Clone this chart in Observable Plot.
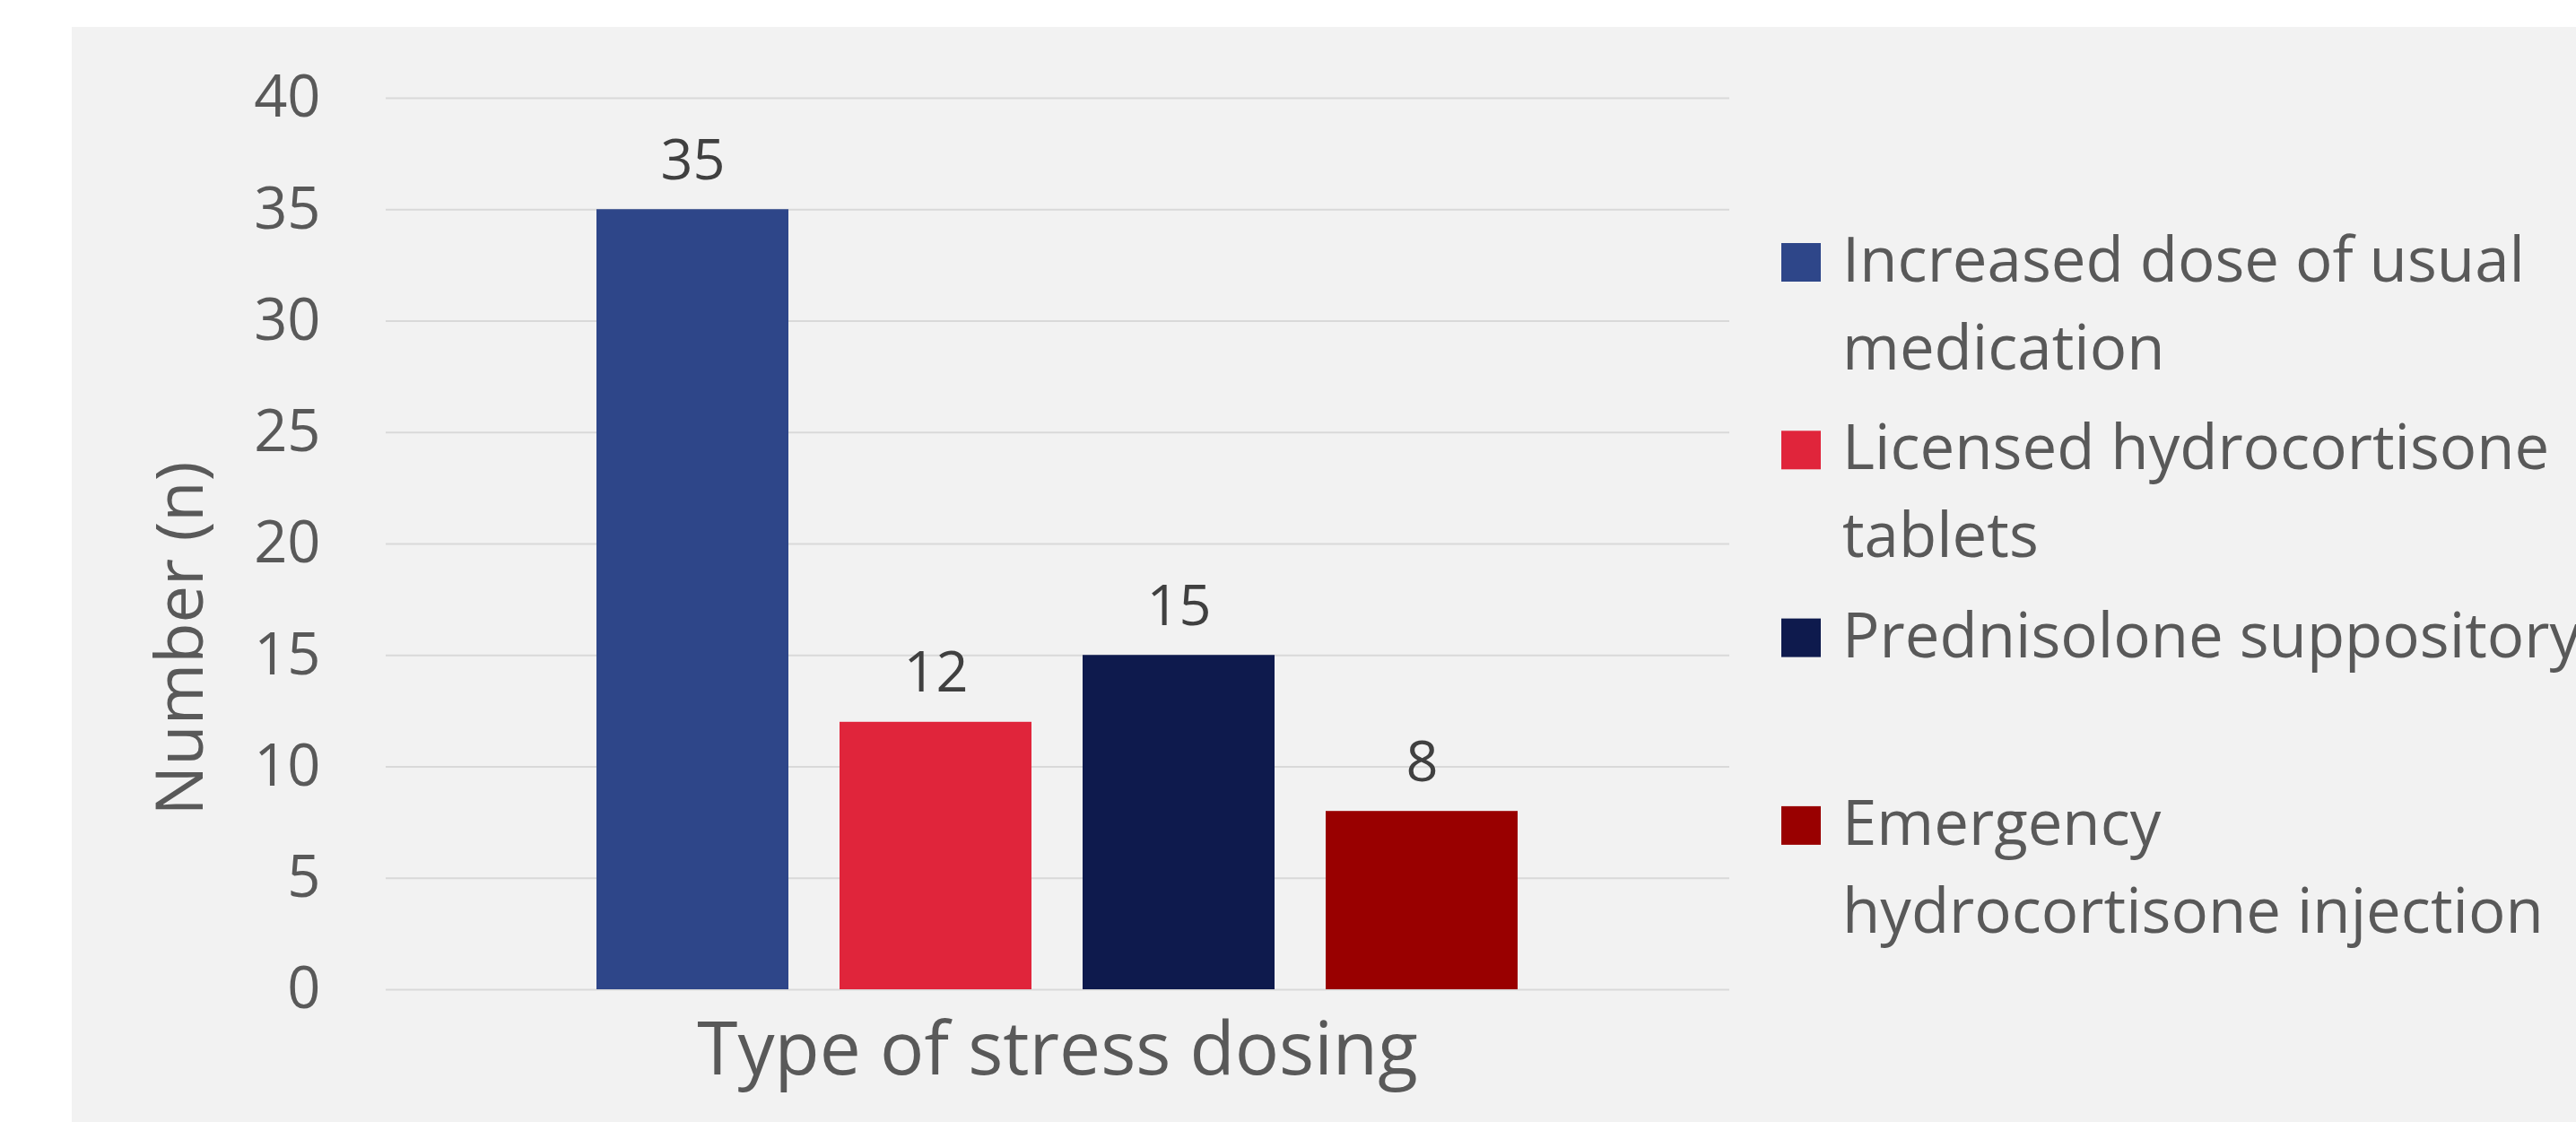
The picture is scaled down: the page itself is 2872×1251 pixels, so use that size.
<!DOCTYPE html>
<html>
<head>
<meta charset="utf-8">
<script src="https://cdn.jsdelivr.net/npm/d3@7"></script>
<script src="https://cdn.jsdelivr.net/npm/@observablehq/plot@0.6"></script>
<style>
  body { margin: 0; background: #ffffff; }
  #wrap { position: relative; width: 2872px; height: 1251px; overflow: hidden; }
  #panel { position: absolute; left: 80px; top: 30px; right: 0; bottom: 0; background: #F2F2F2; }
  #chart { position: absolute; left: 0; top: 0; }
</style>
</head>
<body>
<div id="wrap"><div id="panel"></div><div id="chart"></div></div>
<script>
// ---- data ----
const categories = [
  "Increased dose of usual medication",
  "Licensed hydrocortisone tablets",
  "Prednisolone suppository",
  "Emergency hydrocortisone injection"
];
const values = [35, 12, 15, 8];
const colors = ["#2E4689", "#E0253B", "#0E1A4D", "#990000"];
const legendLines = [
  ["Increased dose of usual", "medication"],
  ["Licensed hydrocortisone", "tablets"],
  ["Prednisolone suppository"],
  ["Emergency", "hydrocortisone injection"]
];
const yTicks = [0, 5, 10, 15, 20, 25, 30, 35, 40];
const xTitle = "Type of stress dosing";
const yTitle = "Number (n)";

// ---- layout ----
const W = 2872, H = 1251;
const mL = 430, mR = 944, mT = 109, mB = 148;
const FONT = "'Open Sans', 'Noto Sans', sans-serif";
const TEXT = "#595959";

const data = categories.map((c, i) => ({cat: c, value: values[i]}));

const plot = Plot.plot({
  width: W, height: H,
  marginLeft: mL, marginRight: mR, marginTop: mT, marginBottom: mB,
  style: {background: "transparent", fontFamily: FONT, color: TEXT},
  x: {domain: categories, paddingInner: 0.21, paddingOuter: 0.86, axis: null},
  y: {domain: [0, 40], label: null},
  color: {domain: categories, range: colors},
  marks: [
    Plot.ruleY(yTicks, {stroke: "#D9D9D9", strokeWidth: 2}),
    Plot.axisY({ticks: yTicks, tickSize: 0, tickPadding: 73, fontSize: 65, label: null, fill: TEXT}),
    Plot.barY(data, {x: "cat", y: "value", fill: "cat"}),
    Plot.text(data, {x: "cat", y: "value", text: d => String(d.value), dy: -34,
      lineAnchor: "bottom", fontSize: 63, fill: "#404040"})
  ]
});
document.getElementById("chart").appendChild(plot);

const svg = d3.select(plot);
// x title
svg.append("text")
  .attr("x", (mL + W - mR) / 2).attr("y", 1198)
  .attr("text-anchor", "middle")
  .attr("font-family", FONT).attr("font-size", 82).attr("fill", TEXT)
  .text(xTitle);
// y title
svg.append("text")
  .attr("transform", "translate(226,712) rotate(-90)")
  .attr("text-anchor", "middle")
  .attr("font-family", FONT).attr("font-size", 74).attr("fill", TEXT)
  .text(yTitle);
// legend
const lg = svg.append("g").attr("text-anchor", "start");
legendLines.forEach((lines, i) => {
  const base = 314 + i * 209.3;
  lg.append("rect").attr("x", 1986).attr("y", base - 43).attr("width", 44).attr("height", 43)
    .attr("fill", colors[i]);
  lines.forEach((ln, j) => {
    lg.append("text").attr("x", 2054).attr("y", base + j * 98)
      .attr("text-anchor", "start")
      .attr("font-family", FONT).attr("font-size", 69).attr("fill", TEXT)
      .text(ln);
  });
});
</script>
</body>
</html>
